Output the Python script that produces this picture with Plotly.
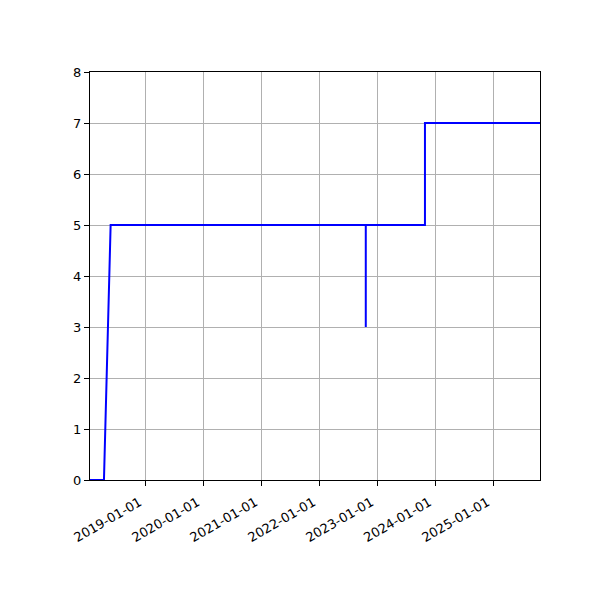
import plotly.graph_objects as go

dates = [
    "2018-01-16", "2018-04-14", "2018-05-26", "2022-10-20", "2022-10-20",
    "2022-10-20", "2023-10-28", "2023-10-28", "2025-10-22",
]
values = [0, 0, 5, 5, 3, 5, 5, 7, 7]

tick_dates = ["2019-01-01", "2020-01-01", "2021-01-01", "2022-01-01",
              "2023-01-01", "2024-01-01", "2025-01-01"]
y_ticks = list(range(0, 9))

fig = go.Figure()
fig.add_trace(
    go.Scatter(
        x=dates,
        y=values,
        mode="lines",
        line={"color": "blue", "width": 2},
        showlegend=False,
    )
)

axis_common = {
    "showline": True,
    "linecolor": "black",
    "linewidth": 1,
    "mirror": True,
    "ticks": "outside",
    "ticklen": 5,
    "tickcolor": "black",
    "showgrid": True,
    "gridcolor": "#b0b0b0",
    "gridwidth": 1,
    "zeroline": False,
    "tickfont": {"family": "DejaVu Sans", "size": 13, "color": "black"},
}

# page body adds an 8px offset, so margins are shifted to compensate
fig.update_layout(
    width=600,
    height=600,
    margin={"l": 82, "r": 68, "t": 64, "b": 128},
    plot_bgcolor="white",
    paper_bgcolor="white",
    xaxis={
        **axis_common,
        "type": "date",
        "range": [dates[0], dates[-1]],
        "tickmode": "array",
        "tickvals": tick_dates,
        "ticktext": tick_dates,
        "tickangle": -30,
        "ticklabelshift": -6,
        "ticklabelstandoff": 4,
    },
    yaxis={
        **axis_common,
        "range": [0, 8],
        "tickmode": "array",
        "tickvals": y_ticks,
    },
)

fig.write_html("out.html")
